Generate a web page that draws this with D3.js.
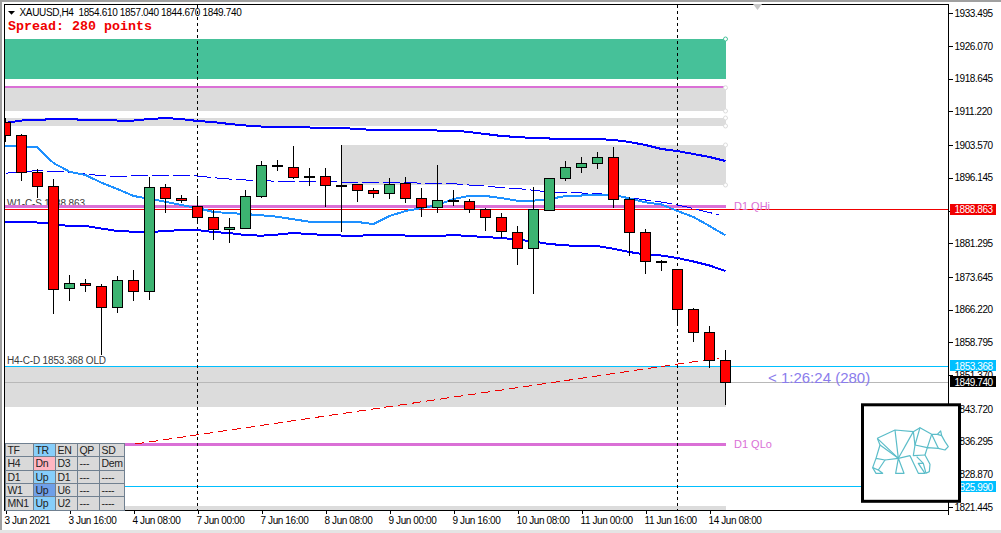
<!DOCTYPE html>
<html><head><meta charset="utf-8">
<script src="https://cdn.jsdelivr.net/npm/d3@7"></script>
<style>
html,body{margin:0;padding:0;background:#fff;overflow:hidden}
svg{display:block}
text{font-family:"Liberation Sans",sans-serif}
</style></head><body>
<div id="chart"></div>
<script>
const priceTicks=[1933.495,1926.070,1918.645,1911.220,1903.570,1896.145,1888.720,1881.295,1873.645,1866.220,1858.795,1851.370,1843.720,1836.295,1828.870,1821.445];
const dateTickBars=[0,4,8,12,16,20,24,28,32,36,40,44];
const dateLabels=["3 Jun 2021","3 Jun 16:00","4 Jun 08:00","7 Jun 00:00","7 Jun 16:00","8 Jun 08:00","9 Jun 00:00","9 Jun 16:00","10 Jun 08:00","11 Jun 00:00","11 Jun 16:00","14 Jun 08:00"];
const opens=[1908.63,1905.84,1897.45,1894.27,1870.98,1872.20,1871.52,1866.66,1872.88,1870.29,1893.98,1891.48,1889.67,1887.17,1884.36,1884.68,1891.85,1898.88,1898.52,1896.38,1896.47,1894.50,1894.66,1893.30,1892.62,1894.80,1891.48,1889.44,1890.94,1890.80,1888.99,1887.17,1883.77,1880.14,1888.76,1896.02,1898.52,1899.42,1900.79,1891.26,1883.77,1877.19,1875.38,1866.30,1861.08,1854.61];
const highs=[1909.70,1906.07,1898.13,1895.86,1874.08,1873.18,1871.97,1873.86,1875.22,1896.32,1894.73,1892.23,1892.01,1888.83,1887.08,1893.37,1899.95,1900.17,1903.35,1898.36,1898.36,1903.58,1894.73,1893.89,1896.02,1896.32,1893.82,1899.04,1893.37,1891.26,1889.28,1888.08,1885.20,1894.05,1896.09,1899.95,1900.85,1901.99,1903.12,1891.71,1884.52,1877.49,1875.44,1866.60,1862.45,1857.04];
const lows=[1904.32,1895.41,1891.55,1865.30,1868.25,1870.29,1855.93,1865.53,1868.25,1868.41,1888.22,1890.49,1886.11,1882.02,1881.41,1884.68,1891.62,1897.74,1895.86,1894.34,1889.58,1883.91,1890.71,1891.62,1891.39,1890.49,1887.31,1888.08,1889.81,1888.22,1884.13,1882.55,1876.42,1869.84,1888.76,1895.48,1897.29,1898.13,1889.35,1878.46,1874.38,1875.06,1863.19,1858.95,1852.92,1844.67];
const closes=[1905.78,1897.29,1894.12,1870.84,1872.20,1871.66,1866.66,1872.88,1870.29,1894.05,1891.39,1890.94,1887.17,1884.36,1884.97,1891.94,1898.97,1898.88,1896.16,1896.38,1894.43,1894.50,1893.30,1892.62,1894.66,1891.48,1889.44,1891.03,1890.94,1888.99,1887.17,1884.00,1880.14,1888.99,1896.02,1898.52,1899.42,1900.79,1891.26,1883.77,1877.19,1877.19,1866.30,1861.08,1854.73,1849.74];
const upperBand=[1908.57,1909.13,1909.25,1909.47,1909.47,1909.25,1909.25,1909.13,1909.13,1909.47,1909.70,1909.47,1909.02,1908.79,1908.34,1908.00,1907.77,1907.55,1907.55,1907.55,1907.43,1907.43,1907.21,1906.98,1906.98,1906.98,1906.98,1906.86,1906.86,1906.52,1906.07,1905.62,1905.39,1905.16,1905.05,1904.94,1904.94,1904.94,1904.71,1904.26,1903.58,1902.67,1902.21,1901.53,1900.85,1899.95];
const lowerBand=[1886.18,1886.11,1885.99,1885.65,1885.20,1885.20,1884.63,1884.07,1883.91,1883.84,1884.07,1884.29,1884.29,1883.84,1883.61,1883.16,1883.00,1883.27,1883.61,1883.38,1883.16,1883.04,1882.93,1883.27,1883.16,1883.04,1882.93,1882.93,1883.16,1882.93,1882.70,1882.48,1882.14,1881.68,1881.12,1880.82,1880.66,1880.66,1880.05,1879.30,1878.73,1878.51,1877.94,1877.15,1876.24,1874.99];
const fastLine=[1903.42,1903.35,1903.01,1899.49,1897.52,1896.77,1895.02,1893.59,1892.01,1891.39,1890.71,1889.96,1889.28,1888.38,1888.15,1887.92,1887.63,1887.31,1886.72,1886.18,1886.18,1886.18,1886.11,1885.65,1887.47,1888.60,1889.28,1889.96,1891.33,1892.07,1892.01,1891.55,1890.94,1890.94,1891.33,1892.01,1892.12,1892.30,1892.23,1891.48,1890.58,1890.08,1888.60,1887.24,1885.20,1883.09];
const midLine=[1897.16,1897.56,1897.74,1897.61,1897.38,1897.00,1896.61,1896.38,1896.66,1896.77,1896.77,1896.66,1896.54,1896.16,1895.86,1895.64,1895.52,1895.34,1895.30,1895.25,1895.25,1895.18,1895.11,1895.11,1895.11,1895.11,1894.89,1894.84,1894.80,1894.50,1894.27,1893.89,1893.71,1893.30,1892.91,1892.84,1892.69,1892.62,1892.01,1891.67,1891.10,1890.64,1889.96,1889.17,1888.26,1887.76];
const midBars=d3.range(45).concat([44.56]);
const zoneTop=[1927.62,1916.57,1909.70,1903.58,1853.368,1821.68];
const zoneBottom=[1918.55,1911.29,1907.89,1894.50,1844.21,1820.00];
const zoneStart=[-1,-1,-1,21,-1,-1];
const zoneFill=["#46c199","#dcdcdc","#dcdcdc","#dcdcdc","#dcdcdc","#dcdcdc"];
const levelPrices=[1916.73,1889.67,1835.68];
const anchorPrices=[1916.57,1911.29,1909.70,1907.89,1903.58,1894.50];
const slopeBars=[8.1,44.56];
const slopePrices=[1835.75,1855.25];
const tableRows=[["TF","TR","EN","QP","SD"],["H4","Dn","D3","---","Dem"],["D1","Up","D1","---","----"],["W1","Up","U6","---","----"],["MN1","Up","U2","---","----"]];
const trFills=["#87cefa","#ffb6c1","#87cefa","#6f9fe8","#87cefa"];
const bearLines=[
"M82,130L135,105L190,110L210,98L245,118L262,118L272,108L275,122L285,140L295,155L285,165L265,160L232,158L225,180L240,208L238,230L228,235L220,205L200,185",
"M82,130L90,150L78,190L68,218L78,235L98,235L85,225L105,195L78,190",
"M68,218L85,225","M82,130L145,190L135,105","M145,190L190,110","M90,150L145,190L105,195",
"M145,190L137,235L162,235L145,190","M145,190L180,182L205,235L225,235L205,205L220,205","M210,98L195,150L232,158L245,118",
"M195,150L190,182L225,180","M190,110L195,150","M245,118L265,160","M262,118L275,122"];

const W=1001,H=533,L=5,R=948.5,T=5,B=510;
const svg=d3.select("#chart").append("svg").attr("width",W).attr("height",H);
const x=d3.scaleLinear().domain([0,45]).range([5.5,725.5]);
const y=d3.scaleLinear().domain([1821.445,1933.495]).range([507.1,13.1]);
const lastPrice=closes[closes.length-1];

svg.append("rect").attr("x",0).attr("y",0).attr("width",W).attr("height",2).attr("fill","#a0a0a0");
svg.append("rect").attr("x",0).attr("y",0).attr("width",2).attr("height",H).attr("fill","#a0a0a0");
svg.append("rect").attr("x",0).attr("y",530).attr("width",W).attr("height",3).attr("fill","#e4e4e4");

svg.append("defs").append("clipPath").attr("id","plot").append("rect").attr("x",L).attr("y",T).attr("width",R-L).attr("height",B-T);
const plot=svg.append("g").attr("clip-path","url(#plot)");

plot.selectAll(".zone").data(zoneTop).join("rect").attr("class","zone")
 .attr("x",(d,i)=>x(zoneStart[i])).attr("y",d=>y(d))
 .attr("width",(d,i)=>x(45)-x(zoneStart[i])).attr("height",(d,i)=>y(zoneBottom[i])-y(d))
 .attr("fill",(d,i)=>zoneFill[i]).attr("shape-rendering","crispEdges");

const note=(s,px,py)=>plot.append("text").text(s).attr("x",px).attr("y",py).attr("font-size",10).attr("letter-spacing","-0.15px").attr("fill","#3a3a3a");
note("W1-C-S 1888.863",7,207);
note("H4-C-D 1853.368 OLD",7,364);

// level lines
plot.selectAll(".level").data(levelPrices).join("line").attr("class","level")
 .attr("x1",(d,i)=>i==2?x(7):x(-1)).attr("x2",x(45)).attr("y1",d=>y(d)).attr("y2",d=>y(d))
 .attr("stroke","#da70d6").attr("stroke-width",(d,i)=>i==0?2:3).attr("shape-rendering","crispEdges");
const hline=(p,c)=>{const py=Math.round(y(p)-0.6)+.5;plot.append("line").attr("x1",L).attr("x2",R).attr("y1",py).attr("y2",py).attr("stroke",c).attr("stroke-width",1).attr("shape-rendering","crispEdges");};
hline(lastPrice,"#b8b8b8");
hline(1888.863,"#f00000");
hline(1853.368,"#00bfff");
hline(1825.990,"#00bfff");

// vertical session lines
[12,42].forEach(b=>plot.append("line").attr("x1",x(b)).attr("x2",x(b)).attr("y1",T).attr("y2",B)
 .attr("stroke","#000").attr("stroke-dasharray","3,3").attr("shape-rendering","crispEdges"));

// rising dashed line
plot.append("line").attr("x1",x(slopeBars[0])).attr("x2",x(slopeBars[1])).attr("y1",y(slopePrices[0])).attr("y2",y(slopePrices[1]))
 .attr("stroke","#f00000").attr("stroke-dasharray","9,5").attr("shape-rendering","crispEdges");

const line=d3.line().x((d,i)=>x(i)).y(d=>y(d));
plot.append("path").attr("d",d3.line().x((d,i)=>x(midBars[i])).y(d=>y(d))(midLine)).attr("fill","none").attr("stroke","#0000ff").attr("stroke-dasharray","17,4").attr("shape-rendering","crispEdges");
plot.append("path").attr("d",line(fastLine)).attr("fill","none").attr("stroke","#1e90ff").attr("stroke-width",2).attr("shape-rendering","crispEdges");
plot.append("path").attr("d",line(upperBand)).attr("fill","none").attr("stroke","#0000ff").attr("stroke-width",2).attr("shape-rendering","crispEdges");
plot.append("path").attr("d",line(lowerBand)).attr("fill","none").attr("stroke","#0000ff").attr("stroke-width",2).attr("shape-rendering","crispEdges");

// candles
const cg=plot.selectAll(".c").data(opens).join("g").attr("class","c").attr("shape-rendering","crispEdges");
cg.append("line").attr("x1",(d,i)=>x(i)).attr("x2",(d,i)=>x(i)).attr("y1",(d,i)=>y(highs[i])).attr("y2",(d,i)=>y(lows[i])).attr("stroke","#000");
cg.append("rect").attr("x",(d,i)=>x(i)-5).attr("width",10)
 .attr("y",(d,i)=>y(Math.max(d,closes[i])))
 .attr("height",(d,i)=>Math.max(1,Math.abs(y(d)-y(closes[i]))))
 .attr("fill",(d,i)=>closes[i]>d?"#3cb371":"#ff0000").attr("stroke","#000");

// anchors
plot.append("circle").attr("cx",x(45)).attr("cy",y(zoneTop[0])).attr("r",2).attr("fill","#fff").attr("stroke","#46c199");
plot.selectAll(".anc").data(anchorPrices).join("circle").attr("class","anc").attr("cx",x(45)).attr("cy",d=>y(d)).attr("r",2).attr("fill","#fff").attr("stroke","#dcdcdc");

// level labels
[["D1 QHi",1889.67],["D1 QLo",1835.68]].forEach(a=>plot.append("text").text(a[0]).attr("x",734).attr("y",y(a[1])+4).attr("font-size",11).attr("fill","#da70d6"));
plot.append("text").text("< 1:26:24 (280)").attr("x",768).attr("y",383).attr("font-size",15).attr("fill","#8a7cec");

// axes
const axY=svg.append("g").attr("transform",`translate(${R},0)`).call(d3.axisRight(y).tickValues(priceTicks).tickFormat(d3.format(".3f")).tickSize(4).tickPadding(2).tickSizeOuter(0));
axY.select(".domain").remove();
axY.selectAll("text").attr("font-size",10).attr("letter-spacing","-0.45px").attr("fill","#000").style("font-family",'"Liberation Sans",sans-serif');
axY.selectAll("line").attr("stroke","#000").attr("shape-rendering","crispEdges");
const axX=svg.append("g").attr("transform",`translate(0,${B})`).call(d3.axisBottom(x).tickValues(dateTickBars).tickFormat((d,i)=>dateLabels[i]).tickSize(4).tickPadding(3).tickSizeOuter(0));
axX.select(".domain").remove();
axX.selectAll("text").attr("text-anchor","start").attr("x",-1.5).attr("font-size",10).attr("letter-spacing","-0.4px").attr("fill","#000").style("font-family",'"Liberation Sans",sans-serif');
axX.selectAll("line").attr("stroke","#000").attr("shape-rendering","crispEdges");

// frame
svg.append("path").attr("d",`M${L-.5},${B+.5}V${T-.5}H${R}V${B+5}M${L-.5},${B+.5}H${R}`).attr("fill","none").attr("stroke","#000").attr("shape-rendering","crispEdges");
svg.append("path").attr("d","M753,4h9l-4.5,6z").attr("fill","#c8c8c8");

// price tags
const tag=(p,bg,fg)=>{const c=y(p);
 svg.append("rect").attr("x",950).attr("y",c-6).attr("width",46).attr("height",11).attr("fill",bg).attr("shape-rendering","crispEdges");
 svg.append("text").text(d3.format(".3f")(p)).attr("x",954.5).attr("y",c+3.5).attr("font-size",10).attr("letter-spacing","-0.45px").attr("fill",fg);};
tag(1888.863,"#f00000","#fff");
tag(1853.368,"#00bfff","#fff");
tag(lastPrice,"#000","#fff");
tag(1825.990,"#00bfff","#fff");

// title
svg.append("path").attr("d","M8,11h7l-3.5,3.7z").attr("fill","#000");
svg.append("text").text("XAUUSD,H4\u00a0\u00a01854.610 1857.040 1844.670 1849.740").attr("x",19.5).attr("y",16).attr("font-size",10).attr("letter-spacing","-0.35px").attr("fill","#000");
svg.append("text").text("Spread: 280 points").attr("x",8).attr("y",29.5).attr("font-size",13.33).attr("font-weight","bold").style("font-family",'"Liberation Mono",monospace').attr("fill","#f00000");

// table
const colEdges=[5,33,55,77,99,124.5];
const rowH=13.3,tableTop=443.5;
const tb=svg.append("g").attr("shape-rendering","crispEdges");
tableRows.forEach((row,r)=>row.forEach((s,c)=>{
 tb.append("rect").attr("x",colEdges[c]).attr("y",tableTop+r*rowH).attr("width",colEdges[c+1]-colEdges[c]).attr("height",rowH)
  .attr("fill",c==1?trFills[r]:"#d9d9d9").attr("stroke","#708090");
 tb.append("text").text(s).attr("x",colEdges[c]+2.5).attr("y",tableTop+r*rowH+10.5).attr("font-size",10.5).attr("letter-spacing","-0.3px").attr("fill","#222");
}));

// logo
svg.append("rect").attr("x",862.5).attr("y",404.8).attr("width",97).attr("height",96.5).attr("fill","#fff").attr("stroke","#000").attr("stroke-width",3);
svg.append("g").attr("transform","translate(850,395) scale(0.3333)").selectAll("path").data(bearLines).join("path").attr("d",d=>d).attr("fill","none").attr("stroke","#5bbdc9").attr("stroke-width",3.6).attr("stroke-linejoin","round");
</script>
</body></html>
